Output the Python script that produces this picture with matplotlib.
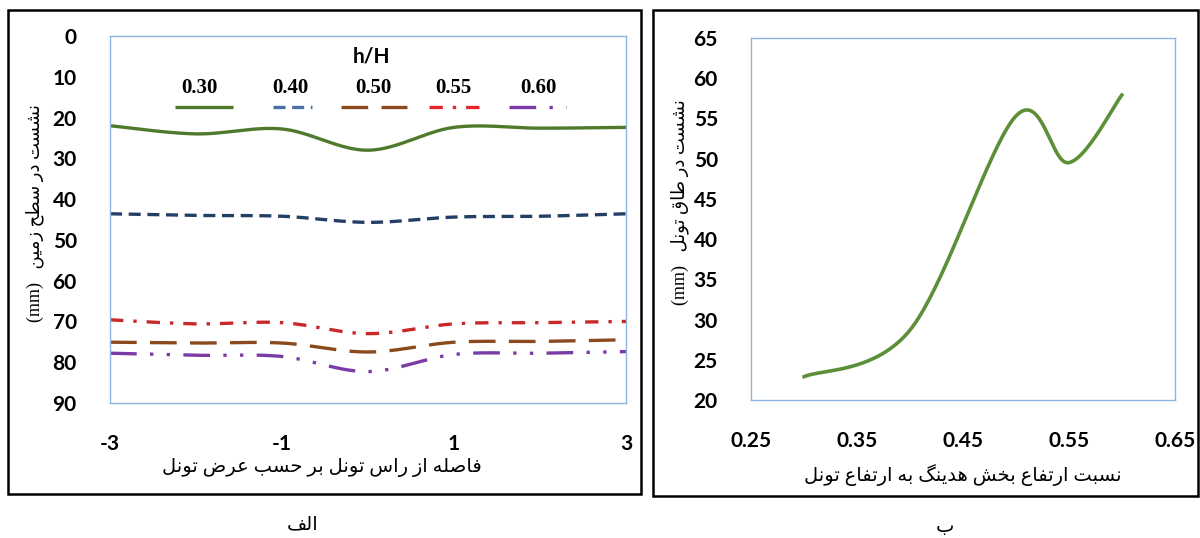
import numpy as np
import matplotlib
matplotlib.use("Agg")
import matplotlib.pyplot as plt
from matplotlib.patches import Rectangle

# ---- data ----
# left: surface settlement across tunnel width, one series per h/H
dist = [-3, -2, -1, 0, 1, 2, 3]
hh_labels = ["0.30", "0.40", "0.50", "0.55", "0.60"]
s030 = [22.0, 24.0, 22.8, 28.0, 22.4, 22.6, 22.4]
s040 = [43.6, 44.0, 44.2, 45.7, 44.4, 44.2, 43.6]
s050 = [75.1, 75.3, 75.3, 77.5, 75.1, 74.9, 74.5]
s055 = [69.6, 70.6, 70.3, 73.0, 70.6, 70.3, 70.0]
s060 = [77.8, 78.3, 78.6, 82.3, 78.1, 77.8, 77.4]

# right: crown settlement vs heading height ratio
ratio = [0.30, 0.40, 0.50, 0.55, 0.60]
crown = [22.9, 28.7, 55.3, 49.5, 57.9]

left_xticks = [-3, -1, 1, 3]
left_yticks = list(range(0, 100, 10))
right_xticks = [0.25, 0.35, 0.45, 0.55, 0.65]
right_yticks = list(range(20, 70, 5))

# ---- minimal persian shaping (matplotlib has no complex text layout) ----
FORMS = {
    'ا': (0xFE8D, 2), 'ب': (0xFE8F, 4), 'ت': (0xFE95, 4), 'ح': (0xFEA1, 4),
    'خ': (0xFEA5, 4), 'د': (0xFEA9, 2), 'ر': (0xFEAD, 2), 'ز': (0xFEAF, 2),
    'س': (0xFEB1, 4), 'ش': (0xFEB5, 4), 'ص': (0xFEB9, 4), 'ض': (0xFEBD, 4),
    'ط': (0xFEC1, 4), 'ع': (0xFEC9, 4), 'ف': (0xFED1, 4), 'ق': (0xFED5, 4),
    'ل': (0xFEDD, 4), 'م': (0xFEE1, 4), 'ن': (0xFEE5, 4), 'ه': (0xFEE9, 4),
    'و': (0xFEED, 2), '\u06CC': (0xFBFC, 4), 'گ': (0xFB92, 4),
}


def shape_word(w):
    out = []
    for i, ch in enumerate(w):
        if ch not in FORMS:
            out.append(ch)
            continue
        base, n = FORMS[ch]
        prev = w[i - 1] if i > 0 else None
        nxt = w[i + 1] if i < len(w) - 1 else None
        jp = prev in FORMS and FORMS[prev][1] == 4
        jn = n == 4 and nxt in FORMS
        if jp and jn:
            k = 3
        elif jp:
            k = 1
        elif jn:
            k = 2
        else:
            k = 0
        out.append(chr(base + k))
    return ''.join(out)


def fa(text):
    """persian text -> shaped glyphs in visual (left to right) order"""
    text = text.replace('\u064A', '\u06CC')
    vis = []
    for w in text.split(' '):
        if any(c in FORMS for c in w):
            vis.append(shape_word(w)[::-1])
        else:
            vis.append(w)
    return ' '.join(vis[::-1])


def smooth(x, y, n=40):
    """Excel-like smoothed line (cubic bezier through the points)"""
    P = np.column_stack([x, y]).astype(float)
    pts = []
    for i in range(len(P) - 1):
        p0 = P[i - 1] if i > 0 else P[i]
        p1, p2 = P[i], P[i + 1]
        p3 = P[i + 2] if i + 2 < len(P) else P[i + 1]
        c1 = p1 + (p2 - p0) / 6
        c2 = p2 - (p3 - p1) / 6
        t = np.linspace(0, 1, n)[:, None]
        seg = ((1 - t) ** 3) * p1 + 3 * ((1 - t) ** 2) * t * c1 + 3 * (1 - t) * t ** 2 * c2 + t ** 3 * p2
        pts.append(seg if i == 0 else seg[1:])
    pts = np.vstack(pts)
    return pts[:, 0], pts[:, 1]


plt.rcParams['font.family'] = ['Lato', 'DejaVu Sans']
FA_FONT = ['Liberation Serif', 'DejaVu Sans']
SPINE = '#8eb4e3'

fig = plt.figure(figsize=(12, 5.38), dpi=100)

# outer frames
fig.patches.append(Rectangle((0.0067, 0.082), 0.5275, 0.8996, transform=fig.transFigure,
                             fill=False, ec='black', lw=1.8))
fig.patches.append(Rectangle((0.544, 0.078), 0.454, 0.9033, transform=fig.transFigure,
                             fill=False, ec='black', lw=1.8))

# ---- left panel ----
ax1 = fig.add_axes([0.0917, 0.251, 0.43, 0.682])
series = [s030, s040, s050, s055, s060]
colors = ['#4f7a2c', '#243f66', '#8b4a1e', '#c8282a', '#7a3ba6']
leg_colors = ['#4f7a2c', '#4a70a8', '#8b4a1e', '#e8242a', '#7a3ba6']
styles = [(0, ()), (0, (3.6, 2.0)), (0, (8, 4)), (0, (4, 3, 1, 3)), (0, (8, 4, 1, 4, 1, 4))]
for s, c, ls in zip(series, colors, styles):
    xs, ys = smooth(dist, s)
    ax1.plot(xs, ys, color=c, lw=2.4, linestyle=ls)

ax1.set_xlim(-3, 3)
ax1.set_ylim(90, 0)
ax1.set_xticks(left_xticks)
ax1.set_xticklabels([str(v) for v in left_xticks])
ax1.set_yticks(left_yticks)
ax1.tick_params(length=0, labelsize=15, pad=22)
ax1.tick_params(axis='y', pad=24)
for lab in ax1.get_xticklabels() + ax1.get_yticklabels():
    lab.set_fontweight('bold')
for sp in ax1.spines.values():
    sp.set_color(SPINE)
    sp.set_linewidth(1)

# legend drawn by hand: label above line sample
ax1.text(0.506, 0.945, 'h/H', transform=ax1.transAxes, ha='center', va='center',
         fontsize=15, fontweight='bold')
lab_x = [0.174, 0.349, 0.510, 0.665, 0.831]
key_x = [0.182, 0.353, 0.512, 0.671, 0.829]
key_w = [0.112, 0.076, 0.128, 0.107, 0.110]
for lab, lx, kx, kw, c, ls in zip(hh_labels, lab_x, key_x, key_w, leg_colors, styles):
    ax1.text(lx, 0.858, lab, transform=ax1.transAxes, ha='center', va='center',
             fontsize=15, fontweight='bold', family='Liberation Serif')
    ax1.plot([kx - kw / 2, kx + kw / 2], [0.807, 0.807], transform=ax1.transAxes,
             color=c, lw=2.4, linestyle=ls, clip_on=False)

ax1.set_xlabel(fa('فاصله از راس تونل بر حسب عرض تونل'), family=FA_FONT, fontsize=14)
ax1.xaxis.set_label_coords(0.41, -0.15)
ax1.set_ylabel('(mm)   ' + fa('نشست در سطح زمین'), family=FA_FONT, fontsize=13)
ax1.yaxis.set_label_coords(-0.128, 0.518)

# ---- right panel ----
ax2 = fig.add_axes([0.626, 0.2565, 0.353, 0.673])
xs, ys = smooth(ratio, crown)
ax2.plot(xs, ys, color='#5b9038', lw=2.6)
ax2.set_xlim(0.25, 0.65)
ax2.set_ylim(20, 65)
ax2.set_xticks(right_xticks)
ax2.set_xticklabels(['%.2f' % v for v in right_xticks])
ax2.set_yticks(right_yticks)
ax2.tick_params(length=0, labelsize=15, pad=22)
ax2.tick_params(axis='y', pad=24)
for lab in ax2.get_xticklabels() + ax2.get_yticklabels():
    lab.set_fontweight('bold')
for sp in ax2.spines.values():
    sp.set_color(SPINE)
    sp.set_linewidth(1)

ax2.set_xlabel(fa('نسبت ارتفاع بخش هدینگ به ارتفاع تونل'), family=FA_FONT, fontsize=14)
ax2.xaxis.set_label_coords(0.50, -0.178)
ax2.set_ylabel('(mm)   ' + fa('نشست در طاق تونل'), family=FA_FONT, fontsize=13)
ax2.yaxis.set_label_coords(-0.148, 0.547)

# panel captions
fig.text(0.252, 0.024, fa('الف'), family=FA_FONT, fontsize=14, ha='center', va='center')
fig.text(0.7875, 0.019, fa('ب'), family=FA_FONT, fontsize=14, ha='center', va='center')

fig.savefig('out.png', dpi=100, facecolor='white')
